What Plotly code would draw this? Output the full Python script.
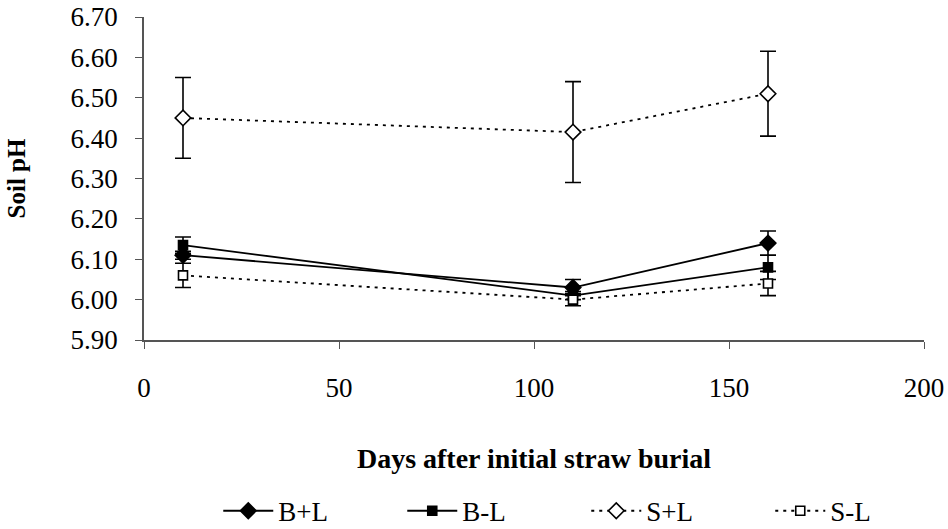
import plotly.graph_objects as go

# Sampling days after straw burial
days = [10, 110, 160]

# Mean soil pH per treatment
bl_plus = [6.11, 6.03, 6.14]
bl_minus = [6.135, 6.01, 6.08]
sl_plus = [6.45, 6.415, 6.51]
sl_minus = [6.06, 6.00, 6.04]

# Error bar half-widths (standard error)
bl_plus_err = [0.01, 0.02, 0.03]
bl_minus_err = [0.02, 0.01, 0.03]
sl_plus_err = [0.10, 0.125, 0.105]
sl_minus_err = [0.03, 0.015, 0.03]

y_ticks = [5.90, 6.00, 6.10, 6.20, 6.30, 6.40, 6.50, 6.60, 6.70]
x_ticks = [0, 50, 100, 150, 200]

FONT = "Liberation Serif, Times New Roman, serif"

series = [
    ("B+L", bl_plus, bl_plus_err, "diamond", "black", "solid", 12),
    ("B-L", bl_minus, bl_minus_err, "square", "black", "solid", 9),
    ("S+L", sl_plus, sl_plus_err, "diamond", "white", "3px,5px", 12),
    ("S-L", sl_minus, sl_minus_err, "square", "white", "3px,5px", 9),
]

fig = go.Figure()
for name, vals, errs, sym, fill, dash, size in series:
    fig.add_trace(go.Scatter(
        x=days, y=vals, name=name, mode="lines+markers",
        line=dict(color="black", width=1.8, dash=dash),
        marker=dict(symbol=sym, size=size, color=fill,
                    line=dict(color="black", width=1.6)),
        error_y=dict(type="data", array=errs, visible=True,
                     color="black", thickness=1.6, width=8),
    ))

fig.update_layout(
    width=948, height=529,
    margin=dict(l=144, r=24, t=17, b=189, autoexpand=False),
    paper_bgcolor="white", plot_bgcolor="white",
    font=dict(family=FONT, size=27, color="black"),
    showlegend=True,
    legend=dict(orientation="h", x=0.567, xanchor="center",
                y=-0.53, yanchor="middle",
                font=dict(family=FONT, size=27),
                itemwidth=50, entrywidth=119, entrywidthmode="pixels",
                tracegroupgap=0),
)

fig.update_xaxes(
    range=[0, 200], tickvals=x_ticks, ticktext=[str(v) for v in x_ticks],
    showgrid=False, zeroline=False, automargin=False,
    showline=True, linecolor="#555555", linewidth=1.5,
    ticks="outside", ticklen=7, tickcolor="#555555", tickwidth=1,
    ticklabelstandoff=16,
    tickfont=dict(family=FONT, size=27),
    title=dict(text="<b>Days after initial straw burial</b>",
               font=dict(family=FONT, size=28), standoff=46),
)
fig.update_yaxes(
    range=[5.90, 6.70], tickvals=y_ticks,
    ticktext=[f"{v:.2f}" for v in y_ticks],
    showgrid=False, zeroline=False, automargin=False,
    showline=True, linecolor="#555555", linewidth=1.5,
    ticks="outside", ticklen=7, tickcolor="#555555", tickwidth=1,
    ticklabelstandoff=12,
    tickfont=dict(family=FONT, size=27),
    title=dict(text="<b>Soil pH</b>", font=dict(family=FONT, size=25),
               standoff=38),
)

fig.write_html("out.html")
